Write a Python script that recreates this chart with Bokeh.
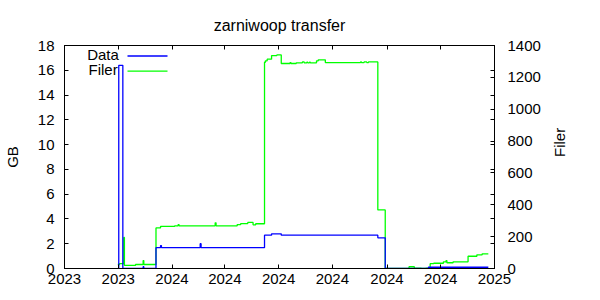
import math
import pandas as pd
from bokeh.plotting import figure
from bokeh.models import (Range1d, LinearAxis, DatetimeAxis, FixedTicker,
                          DatetimeTickFormatter, Label, Arrow, ColumnDataSource)
from bokeh.embed import file_html
from bokeh.resources import INLINE

# ---------------- data ----------------
title_text = "zarniwoop transfer"
x_start = "2023-09-01"
x_end = "2025-01-01"
x_tick_dates = ["2023-09-01", "2023-11-01", "2024-01-01", "2024-03-01", "2024-05-01",
                "2024-07-01", "2024-09-01", "2024-11-01", "2025-01-01"]
gb_ticks = [0, 2, 4, 6, 8, 10, 12, 14, 16, 18]
filer_ticks = [0, 200, 400, 600, 800, 1000, 1200, 1400]

data_dates = ["2023-10-31 12:00", "2023-11-01 14:00", "2023-11-06 05:00", "2023-11-29 06:00",
              "2023-11-30", "2023-12-13 20:00", "2023-12-19", "2023-12-20", "2024-02-02",
              "2024-02-03", "2024-04-15", "2024-04-23", "2024-05-04", "2024-08-21 14:00",
              "2024-08-30", "2024-10-18", "2024-12-25"]
data_gb = [0, 16.4, 0, 0.15, 0, 1.68, 1.85, 1.68, 2.0, 1.68, 2.69, 2.8, 2.69, 2.48,
           0, 0.1, 0.1]

filer_dates = ["2023-10-31 12:00", "2023-11-02 10:00", "2023-11-07 06:00", "2023-11-08",
               "2023-11-20 14:00", "2023-11-29 06:00", "2023-11-30", "2023-12-13 20:00",
               "2023-12-19", "2024-01-04", "2024-01-08", "2024-01-09", "2024-02-19",
               "2024-02-20", "2024-03-15", "2024-03-19", "2024-03-27", "2024-04-02",
               "2024-04-05", "2024-04-15", "2024-04-16", "2024-04-18", "2024-04-23",
               "2024-04-29", "2024-05-04", "2024-05-14", "2024-05-15", "2024-05-21",
               "2024-05-28", "2024-05-30", "2024-06-02", "2024-06-03", "2024-06-05",
               "2024-06-06", "2024-06-13", "2024-06-15", "2024-06-23", "2024-08-02",
               "2024-08-03", "2024-08-06", "2024-08-09", "2024-08-11", "2024-08-21 14:00",
               "2024-08-30", "2024-09-26", "2024-10-02", "2024-10-10", "2024-10-15",
               "2024-10-20", "2024-10-24", "2024-11-04", "2024-11-07", "2024-11-08",
               "2024-11-15", "2024-12-02", "2024-12-12", "2024-12-18", "2024-12-25"]
filer_count = [25, 31, 195, 19,
               25, 50, 25, 255,
               264, 268, 276, 268, 287,
               268, 276, 282, 289, 274,
               281, 1295, 1304, 1314, 1337,
               1341, 1287, 1293, 1287, 1291,
               1297, 1291, 1295, 1291, 1295,
               1291, 1304, 1310, 1293, 1297,
               1293, 1297, 1293, 1297, 368,
               0, 11, 2, 0, 2,
               30, 33, 42, 50, 36,
               42, 77, 86, 92, 92]

gb_max = 18
filer_max = 1400

# ---------------- figure ----------------
FONT = "Liberation Sans"
BLUE = "#0000ff"
GREEN = "#00ff00"

p = figure(width=600, height=300, output_backend="svg", toolbar_location=None,
           x_axis_type="datetime",
           x_range=Range1d(pd.Timestamp(x_start), pd.Timestamp(x_end)),
           y_range=Range1d(0, gb_max),
           min_border_left=64, min_border_right=106, min_border_top=45, min_border_bottom=32)
p.extra_y_ranges = {"filer": Range1d(0, filer_max)}
p.xgrid.visible = False
p.ygrid.visible = False
p.outline_line_color = "black"
p.outline_line_width = 1
p.background_fill_color = "white"
p.border_fill_color = "white"

p.title.text = title_text
p.title.align = "center"
p.title.text_font = FONT
p.title.text_font_size = "16px"
p.title.text_font_style = "normal"
p.title.text_color = "black"
p.title.standoff = 24

tick_ms = [pd.Timestamp(d).value // 10**6 for d in x_tick_dates]
fmt = DatetimeTickFormatter(years="%Y", months="%Y", days="%Y", hours="%Y", hourmin="%Y",
                            minutes="%Y", minsec="%Y", seconds="%Y",
                            milliseconds="%Y", microseconds="%Y")


def style_axis(ax, standoff):
    ax.axis_line_color = "black"
    ax.major_tick_in = 4
    ax.major_tick_out = 0
    ax.minor_tick_in = 4
    ax.minor_tick_out = 0
    ax.major_tick_line_color = "black"
    ax.major_label_text_font = FONT
    ax.major_label_text_font_size = "15px"
    ax.major_label_text_color = "black"
    ax.major_label_standoff = standoff


# bottom x axis
xa = p.xaxis[0]
xa.ticker = FixedTicker(ticks=tick_ms)
xa.formatter = fmt
style_axis(xa, 5)
xa.minor_tick_line_color = None

# top mirror axis (ticks only, labels not drawn)
xtop = DatetimeAxis(ticker=FixedTicker(ticks=tick_ms), formatter=fmt)
style_axis(xtop, 0)
xtop.major_label_text_font_size = "1px"
xtop.major_label_text_color = None
xtop.minor_tick_line_color = None
p.add_layout(xtop, "above")

# left y axis
ya = p.yaxis[0]
ya.ticker = FixedTicker(ticks=gb_ticks)
style_axis(ya, 10)
ya.minor_tick_line_color = None
ya.axis_label = "GB"
ya.axis_label_text_font = FONT
ya.axis_label_text_font_size = "15px"
ya.axis_label_text_font_style = "normal"
ya.axis_label_text_color = "black"
ya.axis_label_standoff = 14

# right y axis (Filer) with mirrored GB ticks as minor ticks
mirror = [g * filer_max / gb_max for g in gb_ticks]
yr = LinearAxis(y_range_name="filer",
                ticker=FixedTicker(ticks=filer_ticks, minor_ticks=mirror))
style_axis(yr, 13)
yr.minor_tick_line_color = "black"
yr.axis_label = "Filer"
yr.axis_label_text_font = FONT
yr.axis_label_text_font_size = "15px"
yr.axis_label_text_font_style = "normal"
yr.axis_label_text_color = "black"
yr.axis_label_standoff = 16
if "axis_label_orientation" in yr.properties():
    yr.axis_label_orientation = math.pi / 2
p.add_layout(yr, "right")

# ---------------- series ----------------
src_data = ColumnDataSource(dict(t=pd.to_datetime(data_dates, format="ISO8601"), v=data_gb))
src_filer = ColumnDataSource(dict(t=pd.to_datetime(filer_dates, format="ISO8601"), v=filer_count))

p.step("t", "v", source=src_filer, mode="after", line_color=GREEN, line_width=1.3,
       y_range_name="filer")
p.step("t", "v", source=src_data, mode="after", line_color=BLUE, line_width=1.3)

# ---------------- legend (gnuplot style: text, then sample) ----------------
legend_items = [("Data", BLUE, 22.7), ("Filer", GREEN, 24)]
for i, (name, col, tx) in enumerate(legend_items):
    ty = 214.5 - i * 15.2
    ly = 212.5 - i * 15.2
    p.add_layout(Label(x=tx, y=ty, x_units="screen", y_units="screen", text=name,
                       text_align="left", text_baseline="middle",
                       text_font=FONT, text_font_size="15px", text_color="black"))
    p.add_layout(Arrow(end=None, start=None, x_start=63, y_start=ly, x_end=103, y_end=ly,
                       start_units="screen", end_units="screen",
                       line_color=col, line_width=1.3))

open("out.html", "w").write(file_html(p, INLINE))
